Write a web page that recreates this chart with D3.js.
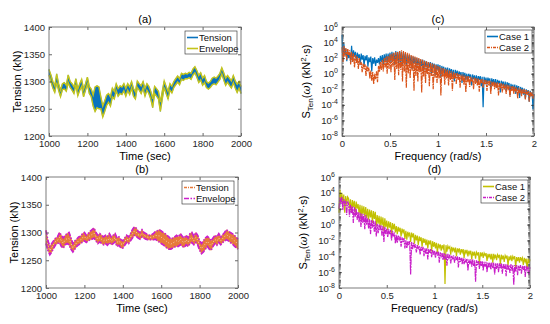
<!DOCTYPE html>
<html>
<head>
<meta charset="utf-8">
<script src="https://cdn.jsdelivr.net/npm/d3@7"></script>
<style>
  body { margin: 0; background: #fff; }
  svg { display: block; font-family: "Liberation Sans", Arial, sans-serif; }
</style>
</head>
<body>
<svg id="fig" width="550" height="324"></svg>
<script>
// time stamps (sec) of the tension records
const times = d3.range(1000, 2001, 10)

// (a) tension band, upper / lower envelope (kN)
const tenA_hi = [1322,1312,1300,1292,1314,1296,1284,1296,1298,1293,
  1312,1300,1296,1290,1305,1286,1296,1304,1286,1296,
  1308,1291,1286,1275,1290,1292,1290,1272,1255,1264,
  1275,1278,1272,1288,1282,1296,1287,1292,1290,1296,
  1287,1296,1290,1300,1287,1281,1301,1296,1292,1300,
  1287,1296,1291,1282,1268,1291,1287,1282,1262,1282,
  1301,1291,1282,1296,1291,1300,1305,1310,1305,1315,
  1313,1315,1314,1317,1315,1323,1327,1320,1311,1316,
  1306,1311,1300,1297,1300,1306,1308,1306,1310,1315,
  1325,1316,1306,1311,1306,1301,1311,1301,1295,1300,1291]
const tenA_lo = [1312,1300,1288,1280,1298,1284,1272,1285,1286,1282,
  1298,1289,1284,1278,1294,1274,1284,1291,1272,1284,
  1295,1278,1272,1255,1245,1252,1250,1250,1235,1245,
  1256,1262,1255,1272,1268,1283,1273,1278,1276,1283,
  1273,1284,1276,1288,1273,1268,1289,1284,1278,1288,
  1273,1284,1278,1268,1252,1278,1273,1268,1245,1268,
  1289,1278,1268,1284,1279,1289,1294,1299,1294,1304,
  1302,1305,1305,1307,1304,1312,1316,1308,1298,1303,
  1293,1298,1289,1286,1289,1294,1296,1294,1299,1304,
  1314,1303,1293,1299,1293,1288,1298,1288,1280,1288,1278]

// (b) tension band, upper / lower envelope (kN)
const tenB_hi = [1304,1285,1275,1280,1285,1290,1292,1300,1295,1290,
  1295,1298,1300,1290,1280,1285,1288,1292,1293,1298,
  1300,1295,1298,1302,1305,1308,1300,1295,1298,1295,
  1292,1295,1293,1298,1292,1295,1298,1290,1292,1287,
  1285,1290,1295,1292,1298,1305,1310,1308,1302,1300,
  1305,1300,1298,1296,1295,1296,1298,1302,1303,1305,
  1303,1300,1298,1295,1292,1288,1290,1292,1295,1292,
  1298,1293,1290,1295,1290,1298,1300,1293,1300,1295,
  1285,1280,1285,1290,1293,1290,1285,1290,1295,1292,
  1298,1292,1296,1300,1305,1302,1300,1298,1295,1292,1288]
const tenB_lo = [1280,1268,1260,1265,1272,1278,1280,1282,1275,1272,
  1278,1280,1278,1270,1265,1270,1275,1278,1280,1283,
  1285,1282,1285,1287,1288,1290,1285,1280,1283,1280,
  1278,1280,1277,1282,1278,1280,1283,1275,1277,1272,
  1272,1277,1282,1280,1285,1290,1295,1293,1290,1288,
  1292,1290,1288,1287,1287,1287,1287,1288,1285,1283,
  1280,1278,1275,1272,1270,1270,1272,1274,1275,1275,
  1278,1275,1273,1278,1275,1280,1282,1278,1282,1278,
  1268,1262,1265,1270,1275,1270,1268,1275,1280,1277,
  1282,1278,1282,1285,1287,1285,1282,1280,1276,1273,1270]

// spectrum frequencies (rad/s)
const freqs = d3.range(0, 2.0001, 0.01)

// spectra, log10 of S_Ten (kN^2 s)
const specC1 = [5.0,2.0,3.8,2.4,3.2,1.6,2.9,2.0,2.7,1.5,
  3.6,1.8,3.0,2.2,2.8,1.6,2.7,2.0,2.5,1.2,
  2.6,1.8,2.4,1.0,2.3,1.7,2.4,0.9,2.1,1.5,
  2.2,0.3,2.0,1.3,2.1,1.0,1.8,1.4,2.0,1.2,
  2.3,1.5,2.4,1.2,2.5,1.6,2.6,1.3,2.6,1.7,
  2.7,1.4,2.8,1.8,2.7,1.2,2.9,1.6,2.8,1.3,
  2.9,1.5,2.8,1.2,2.7,1.6,2.6,1.0,2.5,1.4,
  2.4,1.2,2.3,0.6,2.2,1.3,2.1,0.8,2.0,1.1,
  1.9,0.5,1.8,1.0,1.8,0.2,1.7,0.9,1.6,0.4,
  1.5,0.8,1.5,0.0,1.4,0.7,1.3,-0.2,1.2,0.5,
  1.2,0.2,1.1,-0.5,1.0,0.3,0.9,-0.3,0.8,0.0,
  0.8,-0.6,0.7,0.1,0.6,-0.4,0.5,-1.0,0.5,-0.2,
  0.4,-0.5,0.3,-0.1,0.2,-1.2,0.2,-0.4,0.1,-0.8,
  0.0,-0.9,0.0,-0.4,-0.1,-1.5,-0.1,-0.7,-0.2,-1.0,
  -0.2,-1.2,-0.3,-0.8,-0.3,-1.6,-0.4,-4.3,-0.4,-1.1,
  -0.5,-1.4,-0.5,-0.9,-0.6,-2.0,-0.6,-1.2,-0.7,-1.6,
  -0.7,-1.8,-0.8,-1.2,-0.9,-2.4,-0.9,-1.5,-1.0,-2.0,
  -1.0,-2.2,-1.1,-1.5,-1.2,-2.8,-1.3,-1.9,-1.4,-2.3,
  -1.4,-2.6,-1.5,-2.0,-1.6,-3.1,-1.7,-2.3,-1.8,-2.7,
  -1.9,-3.2,-2.0,-2.5,-2.1,-3.6,-2.2,-2.8,-2.4,-4.6,-2.6]
const specC2 = [3.4,1.5,3.6,2.2,3.3,1.8,3.2,2.4,3.0,1.2,
  2.8,1.5,2.6,0.8,2.4,1.4,2.2,0.6,2.0,1.1,
  1.5,0.2,1.3,0.6,1.2,-0.3,1.0,0.3,0.8,-0.6,
  0.4,-0.9,0.2,-1.3,0.0,-0.7,0.3,-1.1,1.0,0.2,
  1.5,0.5,1.8,0.3,2.0,0.8,2.2,0.0,2.3,0.6,
  2.5,0.2,2.6,0.9,2.7,-0.8,2.8,0.6,2.8,-0.2,
  2.9,0.5,3.0,-1.0,2.9,0.3,2.8,-1.8,2.7,0.0,
  2.6,-0.6,2.4,0.4,2.3,-2.2,2.2,-0.3,2.1,-1.0,
  2.0,0.2,1.9,-2.4,1.8,-0.4,1.7,-1.2,1.6,-0.1,
  1.5,-1.6,1.4,-0.3,1.3,-2.0,1.2,-0.5,1.1,-1.2,
  1.0,-0.6,0.9,-2.8,0.8,-0.4,0.7,-1.4,0.6,-0.6,
  0.5,-1.5,0.4,-0.8,0.3,-2.2,0.2,-0.6,0.1,-1.3,
  0.1,-0.8,0.0,-1.8,-0.1,-0.9,-0.1,-1.4,-0.2,-2.4,
  -0.3,-1.1,-0.3,-1.7,-0.4,-1.0,-0.5,-2.0,-0.5,-1.3,
  -0.6,-1.5,-0.6,-2.3,-0.7,-1.2,-0.7,-1.8,-0.8,-1.4,
  -0.8,-2.2,-0.9,-1.5,-0.9,-2.6,-1.0,-1.6,-1.0,-2.0,
  -1.1,-1.8,-1.1,-2.8,-1.2,-1.9,-1.2,-2.4,-1.3,-2.0,
  -1.4,-2.6,-1.4,-2.1,-1.5,-3.0,-1.6,-2.2,-1.6,-2.6,
  -1.7,-2.4,-1.8,-3.2,-1.8,-2.5,-1.9,-2.9,-2.0,-2.6,
  -2.0,-3.3,-2.1,-2.7,-2.2,-3.6,-2.3,-2.9,-2.4,-3.2,-2.6]
const specD1 = [1.5,4.4,2.8,4.0,2.6,3.8,1.5,3.6,2.5,3.5,
  3.3,2.0,3.2,1.6,3.1,2.2,3.0,1.5,2.9,2.0,
  2.6,1.4,2.5,0.6,2.4,1.3,2.3,1.0,2.2,0.8,
  2.0,0.6,1.9,0.9,1.8,0.2,1.7,0.7,1.6,-0.2,
  1.2,0.1,1.1,-0.3,1.0,-0.1,0.9,-0.8,0.8,-0.3,
  0.5,-0.7,0.4,-0.4,0.3,-1.3,0.2,-0.6,0.1,-1.0,
  -0.2,-1.2,-0.3,-0.9,-0.4,-1.5,-0.5,-1.0,-0.6,-1.8,
  -0.8,-1.9,-0.9,-1.4,-1.0,-2.2,-1.0,-1.6,-1.1,-2.4,
  -1.3,-2.0,-1.4,-2.6,-1.5,-2.1,-1.6,-2.8,-1.7,-2.3,
  -1.8,-2.6,-1.9,-3.0,-2.0,-2.5,-2.0,-3.4,-2.1,-2.8,
  -2.2,-3.0,-2.3,-3.6,-2.4,-2.9,-2.5,-3.3,-2.6,-3.0,
  -2.5,-7.5,-2.6,-3.4,-2.7,-3.0,-2.8,-3.8,-2.8,-3.3,
  -2.9,-3.5,-2.9,-4.0,-3.0,-3.4,-3.0,-3.8,-3.1,-3.5,
  -3.1,-4.2,-3.2,-3.6,-3.2,-4.0,-3.3,-3.7,-3.3,-4.4,
  -3.4,-3.9,-3.4,-4.3,-3.5,-3.8,-3.5,-5.0,-3.5,-4.0,
  -3.5,-4.2,-3.6,-3.9,-3.6,-4.6,-3.7,-4.1,-3.7,-4.4,
  -3.7,-4.8,-3.7,-4.2,-3.8,-4.5,-3.8,-4.1,-3.8,-5.0,
  -3.8,-4.4,-3.9,-4.7,-3.9,-4.2,-3.9,-5.2,-4.0,-4.5,
  -3.9,-4.6,-4.0,-4.3,-4.0,-5.4,-4.1,-4.6,-4.1,-4.8,
  -4.1,-4.5,-4.2,-5.1,-4.2,-4.7,-4.3,-5.6,-4.3,-4.9,-4.4]
const specD2 = [2.0,3.4,2.6,3.5,1.8,3.2,2.4,3.0,1.2,2.9,
  2.6,1.0,2.5,1.4,2.3,0.2,2.2,1.0,2.0,0.6,
  1.6,0.3,1.5,-0.3,1.4,0.2,1.3,-0.6,1.2,0.0,
  0.8,-0.5,0.7,-1.2,0.6,-0.4,0.5,-0.9,0.4,-1.5,
  0.1,-1.1,0.0,-0.7,-0.1,-1.4,-0.2,-2.2,-0.3,-1.2,
  -0.5,-1.6,-0.6,-1.2,-0.7,-2.0,-0.8,-1.5,-1.0,-2.4,
  -1.3,-2.3,-1.4,-1.9,-1.5,-2.8,-1.6,-2.2,-1.7,-3.0,
  -2.0,-3.0,-2.1,-2.6,-2.1,-6.3,-2.2,-3.1,-2.3,-2.8,
  -2.5,-3.5,-2.6,-3.0,-2.7,-3.8,-2.8,-3.3,-2.8,-4.0,
  -3.0,-3.7,-3.0,-4.4,-3.1,-3.6,-3.1,-4.1,-3.2,-3.8,
  -3.3,-4.2,-3.4,-3.9,-3.4,-4.8,-3.5,-4.0,-3.6,-4.5,
  -3.6,-4.4,-3.7,-5.2,-3.7,-4.2,-3.8,-4.9,-3.9,-4.4,
  -3.9,-4.8,-4.0,-4.5,-4.0,-5.4,-4.1,-4.7,-4.2,-5.0,
  -4.2,-5.0,-4.3,-4.8,-4.3,-5.8,-4.4,-5.0,-4.4,-5.3,
  -4.4,-5.2,-4.5,-7.2,-4.5,-5.1,-4.6,-5.6,-4.6,-5.2,
  -4.6,-5.8,-4.7,-5.3,-4.7,-6.0,-4.8,-5.4,-4.8,-5.7,
  -4.8,-5.5,-4.8,-6.3,-4.9,-5.6,-4.9,-6.0,-4.9,-5.5,
  -4.9,-6.2,-5.0,-5.6,-5.0,-6.5,-5.0,-5.7,-5.1,-6.1,
  -5.0,-5.8,-5.1,-7.6,-5.1,-5.9,-5.1,-6.4,-5.2,-5.8,
  -5.1,-6.2,-5.2,-5.7,-5.2,-6.6,-5.2,-5.9,-5.3,-6.3,-5.3]

// ticks
const tensionTicks = [1200, 1250, 1300, 1350, 1400]
const timeTicks = [1000, 1200, 1400, 1600, 1800, 2000]
const freqTicks = [0, 0.5, 1, 1.5, 2]
const specTicks = [1e-8, 1e-6, 1e-4, 1e-2, 1e0, 1e2, 1e4, 1e6]

const svg = d3.select('#fig')
const AX = '#262626'

// box with ticks on all four sides, pointing inward
function frame(g, x, y, b, yTicks, xTicks, yFmt) {
  g.append('g').attr('transform', `translate(0,${b.y1})`)
    .call(d3.axisBottom(x).tickValues(xTicks).tickSize(-3).tickSizeOuter(0).tickPadding(4)
      .tickFormat(d3.format('')))
  g.append('g').attr('transform', `translate(0,${b.y0})`)
    .call(d3.axisTop(x).tickValues(xTicks).tickSize(-3).tickSizeOuter(0).tickFormat(''))
  const ly = g.append('g').attr('transform', `translate(${b.x0},0)`)
    .call(d3.axisLeft(y).tickValues(yTicks).tickSize(-3).tickSizeOuter(0).tickPadding(4)
      .tickFormat(yFmt || d3.format('')))
  g.append('g').attr('transform', `translate(${b.x1},0)`)
    .call(d3.axisRight(y).tickValues(yTicks).tickSize(-3).tickSizeOuter(0).tickFormat(''))
  g.selectAll('.domain').remove()
  g.selectAll('.tick line').attr('stroke', AX).attr('stroke-width', 0.7)
  g.selectAll('.tick text').attr('font-size', 9.5).attr('fill', AX)
    .attr('font-family', '"Liberation Sans", Arial, sans-serif')
  g.append('rect').attr('x', b.x0).attr('y', b.y0)
    .attr('width', b.x1 - b.x0).attr('height', b.y1 - b.y0)
    .attr('fill', 'none').attr('stroke', '#6e6e6e').attr('stroke-width', 0.9)
  return ly
}

function legend(g, lx, ly, w, items) {
  g.append('rect').attr('x', lx).attr('y', ly).attr('width', w).attr('height', 23)
    .attr('fill', '#fff').attr('stroke', '#262626').attr('stroke-width', 0.6)
  items.forEach((it, i) => {
    const yy = ly + 6.5 + i * 11
    g.append('line').attr('x1', lx + 2).attr('x2', lx + 13).attr('y1', yy).attr('y2', yy)
      .attr('stroke', it.color).attr('stroke-width', it.width || 1.6)
      .attr('stroke-dasharray', it.dash || null)
    g.append('text').attr('x', lx + 14).attr('y', yy + 3.3).attr('font-size', 9.5)
      .attr('fill', '#111').text(it.label)
  })
}

function tensionPanel(b, hi, lo, st) {
  const g = svg.append('g')
  const x = d3.scaleLinear().domain([1000, 2000]).range([b.x0, b.x1])
  const y = d3.scaleLinear().domain([1200, 1400]).range([b.y1, b.y0])
  const idx = d3.range(times.length)

  g.append('path').datum(idx)
    .attr('d', d3.area().x(i => x(times[i])).y0(i => y(lo[i])).y1(i => y(hi[i])))
    .attr('fill', st.fill).attr('stroke', st.fill).attr('stroke-width', 0.6)
  if (st.speckle) {
    g.append('path').datum(idx)
      .attr('d', d3.line().x(i => x(times[i])).y(i => y((hi[i] + lo[i]) / 2)))
      .attr('fill', 'none').attr('stroke', '#f6d2b4').attr('stroke-width', 1)
      .attr('stroke-dasharray', '1,2')
  }
  for (const arr of [hi, lo]) {
    g.append('path').datum(arr)
      .attr('d', d3.line().x((d, i) => x(times[i])).y(d => y(d)))
      .attr('fill', 'none').attr('stroke', st.env).attr('stroke-width', st.envW)
      .attr('stroke-dasharray', st.envDash || null)
  }
  frame(g, x, y, b, tensionTicks, timeTicks)

  g.append('text').attr('x', (b.x0 + b.x1) / 2).attr('y', b.y0 - 4).attr('text-anchor', 'middle')
    .attr('font-size', 11).text(st.title)
  g.append('text').attr('x', (b.x0 + b.x1) / 2).attr('y', b.y1 + 24).attr('text-anchor', 'middle')
    .attr('font-size', 11).text('Time (sec)')
  g.append('text').attr('transform', `translate(${b.x0 - 28},${(b.y0 + b.y1) / 2}) rotate(-90)`)
    .attr('text-anchor', 'middle').attr('font-size', 11).text('Tension (kN)')
  legend(g, b.x1 - 56, b.y0 + 4, 52, [
    { label: 'Tension', color: st.fill, dash: st.tenDash },
    { label: 'Envelope', color: st.env, dash: st.envDash }
  ])
}

function specPanel(b, s1, s2, st) {
  const g = svg.append('g')
  const x = d3.scaleLinear().domain([0, 2]).range([b.x0, b.x1])
  const y = d3.scaleLog().domain([1e-8, 1e6]).range([b.y1, b.y0])

  // minor log ticks
  const minor = []
  for (let e = -8; e < 6; e++) for (let k = 1; k < 10; k++) minor.push(k * Math.pow(10, e))
  g.append('g').selectAll('line').data(minor).join('line')
    .attr('x1', b.x0).attr('x2', b.x0 + 1.8).attr('y1', d => y(d)).attr('y2', d => y(d))
    .attr('stroke', AX).attr('stroke-width', 0.5)
  g.append('g').selectAll('line').data(minor).join('line')
    .attr('x1', b.x1).attr('x2', b.x1 - 1.8).attr('y1', d => y(d)).attr('y2', d => y(d))
    .attr('stroke', AX).attr('stroke-width', 0.5)

  const line = d3.line().x((d, i) => x(freqs[i])).y(d => y(Math.pow(10, d)))
  g.append('path').datum(s1).attr('d', line).attr('fill', 'none')
    .attr('stroke', st.c1).attr('stroke-width', 1.2)
  g.append('path').datum(s2).attr('d', line).attr('fill', 'none')
    .attr('stroke', st.c2).attr('stroke-width', 1.2).attr('stroke-dasharray', '6,0.8,2,0.8')

  const ly = frame(g, x, y, b, specTicks, freqTicks, d => '')
  ly.selectAll('.tick text').each(function (d) {
    const t = d3.select(this)
    t.append('tspan').text('10')
    t.append('tspan').attr('dy', -4).attr('font-size', 7).text(Math.round(Math.log10(d)))
  })

  g.append('text').attr('x', (b.x0 + b.x1) / 2).attr('y', b.y0 - 4).attr('text-anchor', 'middle')
    .attr('font-size', 11).text(st.title)
  g.append('text').attr('x', (b.x0 + b.x1) / 2).attr('y', b.y1 + 24).attr('text-anchor', 'middle')
    .attr('font-size', 11).text('Frequency (rad/s)')

  const yl = g.append('text')
    .attr('transform', `translate(${b.x0 - 32},${(b.y0 + b.y1) / 2}) rotate(-90)`)
    .attr('text-anchor', 'middle').attr('font-size', 11)
  yl.append('tspan').text('S')
  yl.append('tspan').attr('font-size', 8).attr('dy', 3).text('Ten')
  yl.append('tspan').attr('dy', -3).text('(')
  yl.append('tspan').attr('font-style', 'italic').attr('font-family', '"DejaVu Serif", serif').text('ω')
  yl.append('tspan').text(') (kN')
  yl.append('tspan').attr('font-size', 8).attr('dy', -4).text('2')
  yl.append('tspan').attr('dy', 4).text('·s)')

  legend(g, b.x1 - 49, b.y0 + 3, 47, [
    { label: 'Case 1', color: st.c1 },
    { label: 'Case 2', color: st.c2, dash: '3,1,1,1' }
  ])
}

tensionPanel({ x0: 49, x1: 241, y0: 27, y1: 136 }, tenA_hi, tenA_lo,
  { title: '(a)', fill: '#0a72bd', env: '#c4c41a', envW: 1.4 })
tensionPanel({ x0: 46, x1: 238, y0: 177, y1: 288 }, tenB_hi, tenB_lo,
  { title: '(b)', fill: '#e77a3a', env: '#cc1fcc', envW: 1.7, envDash: '5,1.5,1.5,1.5', tenDash: '3,1,1,1', speckle: true })
specPanel({ x0: 342, x1: 534, y0: 27, y1: 136 }, specC1, specC2,
  { title: '(c)', c1: '#0072bd', c2: '#d95319' })
specPanel({ x0: 339, x1: 530, y0: 177, y1: 288 }, specD1, specD2,
  { title: '(d)', c1: '#c2c000', c2: '#c81ec8' })
</script>
</body>
</html>
